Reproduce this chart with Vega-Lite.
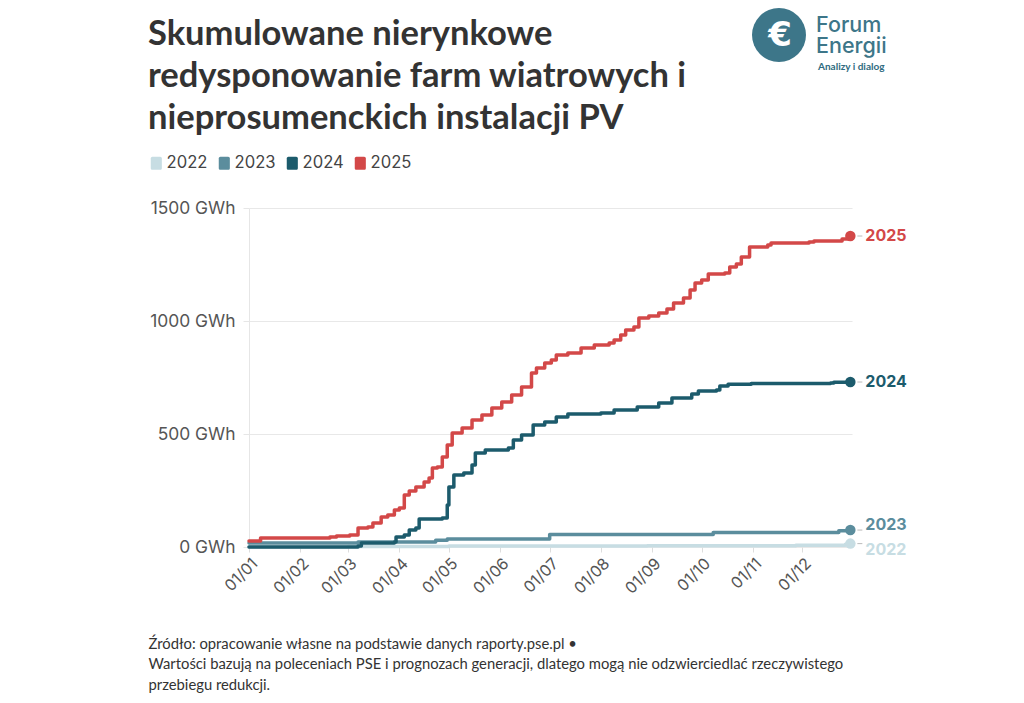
{
  "$schema": "https://vega.github.io/schema/vega-lite/v6.json",
  "width": 603,
  "height": 339,
  "autosize": {"type": "none"},
  "padding": {"left": 249, "top": 208, "right": 172, "bottom": 156},
  "background": "white",
  "config": {
    "view": {"stroke": null},
    "font": "Inter"
  },
  "title": {
    "text": ["Skumulowane nierynkowe", "redysponowanie farm wiatrowych i", "nieprosumenckich instalacji PV"],
    "anchor": "start",
    "frame": "bounds",
    "font": "Lato",
    "fontSize": 34.5,
    "fontWeight": "bold",
    "color": "#333333",
    "lineHeight": 42,
    "offset": -128
  },
  "datasets": {
    "redispatch": [
      {"series": "2022", "date": "2022-01-01", "gwh": 0},
      {"series": "2022", "date": "2022-03-01", "gwh": 2},
      {"series": "2022", "date": "2022-05-01", "gwh": 4},
      {"series": "2022", "date": "2022-08-29", "gwh": 6},
      {"series": "2022", "date": "2022-11-27", "gwh": 8},
      {"series": "2022", "date": "2022-12-27", "gwh": 12},
      {"series": "2022", "date": "2022-12-30", "gwh": 15},

      {"series": "2023", "date": "2023-01-01", "gwh": 18},
      {"series": "2023", "date": "2023-03-07", "gwh": 22},
      {"series": "2023", "date": "2023-04-23", "gwh": 30},
      {"series": "2023", "date": "2023-04-30", "gwh": 35},
      {"series": "2023", "date": "2023-07-01", "gwh": 55},
      {"series": "2023", "date": "2023-10-08", "gwh": 64},
      {"series": "2023", "date": "2023-12-23", "gwh": 72},
      {"series": "2023", "date": "2023-12-30", "gwh": 75},

      {"series": "2024", "date": "2024-01-01", "gwh": 0},
      {"series": "2024", "date": "2024-03-07", "gwh": 4},
      {"series": "2024", "date": "2024-03-09", "gwh": 18},
      {"series": "2024", "date": "2024-03-29", "gwh": 22},
      {"series": "2024", "date": "2024-03-30", "gwh": 44},
      {"series": "2024", "date": "2024-04-04", "gwh": 53},
      {"series": "2024", "date": "2024-04-07", "gwh": 75},
      {"series": "2024", "date": "2024-04-11", "gwh": 84},
      {"series": "2024", "date": "2024-04-13", "gwh": 124},
      {"series": "2024", "date": "2024-04-27", "gwh": 128},
      {"series": "2024", "date": "2024-04-30", "gwh": 186},
      {"series": "2024", "date": "2024-05-01", "gwh": 265},
      {"series": "2024", "date": "2024-05-04", "gwh": 319},
      {"series": "2024", "date": "2024-05-10", "gwh": 327},
      {"series": "2024", "date": "2024-05-15", "gwh": 363},
      {"series": "2024", "date": "2024-05-17", "gwh": 416},
      {"series": "2024", "date": "2024-05-23", "gwh": 429},
      {"series": "2024", "date": "2024-06-06", "gwh": 438},
      {"series": "2024", "date": "2024-06-09", "gwh": 473},
      {"series": "2024", "date": "2024-06-14", "gwh": 496},
      {"series": "2024", "date": "2024-06-21", "gwh": 540},
      {"series": "2024", "date": "2024-06-28", "gwh": 553},
      {"series": "2024", "date": "2024-07-05", "gwh": 575},
      {"series": "2024", "date": "2024-07-12", "gwh": 588},
      {"series": "2024", "date": "2024-08-01", "gwh": 593},
      {"series": "2024", "date": "2024-08-09", "gwh": 606},
      {"series": "2024", "date": "2024-08-23", "gwh": 619},
      {"series": "2024", "date": "2024-09-05", "gwh": 637},
      {"series": "2024", "date": "2024-09-13", "gwh": 659},
      {"series": "2024", "date": "2024-09-25", "gwh": 677},
      {"series": "2024", "date": "2024-09-29", "gwh": 690},
      {"series": "2024", "date": "2024-10-10", "gwh": 695},
      {"series": "2024", "date": "2024-10-12", "gwh": 712},
      {"series": "2024", "date": "2024-10-17", "gwh": 720},
      {"series": "2024", "date": "2024-10-31", "gwh": 724},
      {"series": "2024", "date": "2024-12-18", "gwh": 726},
      {"series": "2024", "date": "2024-12-20", "gwh": 729},
      {"series": "2024", "date": "2024-12-30", "gwh": 730},

      {"series": "2025", "date": "2025-01-01", "gwh": 27},
      {"series": "2025", "date": "2025-01-08", "gwh": 40},
      {"series": "2025", "date": "2025-02-19", "gwh": 44},
      {"series": "2025", "date": "2025-02-23", "gwh": 49},
      {"series": "2025", "date": "2025-03-02", "gwh": 53},
      {"series": "2025", "date": "2025-03-07", "gwh": 84},
      {"series": "2025", "date": "2025-03-13", "gwh": 88},
      {"series": "2025", "date": "2025-03-16", "gwh": 106},
      {"series": "2025", "date": "2025-03-21", "gwh": 133},
      {"series": "2025", "date": "2025-03-25", "gwh": 142},
      {"series": "2025", "date": "2025-03-29", "gwh": 164},
      {"series": "2025", "date": "2025-04-01", "gwh": 173},
      {"series": "2025", "date": "2025-04-04", "gwh": 230},
      {"series": "2025", "date": "2025-04-07", "gwh": 248},
      {"series": "2025", "date": "2025-04-11", "gwh": 265},
      {"series": "2025", "date": "2025-04-16", "gwh": 288},
      {"series": "2025", "date": "2025-04-19", "gwh": 305},
      {"series": "2025", "date": "2025-04-21", "gwh": 350},
      {"series": "2025", "date": "2025-04-24", "gwh": 354},
      {"series": "2025", "date": "2025-04-27", "gwh": 398},
      {"series": "2025", "date": "2025-04-30", "gwh": 451},
      {"series": "2025", "date": "2025-05-03", "gwh": 504},
      {"series": "2025", "date": "2025-05-09", "gwh": 527},
      {"series": "2025", "date": "2025-05-15", "gwh": 562},
      {"series": "2025", "date": "2025-05-21", "gwh": 584},
      {"series": "2025", "date": "2025-05-27", "gwh": 615},
      {"series": "2025", "date": "2025-06-02", "gwh": 642},
      {"series": "2025", "date": "2025-06-08", "gwh": 673},
      {"series": "2025", "date": "2025-06-14", "gwh": 708},
      {"series": "2025", "date": "2025-06-20", "gwh": 770},
      {"series": "2025", "date": "2025-06-23", "gwh": 792},
      {"series": "2025", "date": "2025-06-28", "gwh": 814},
      {"series": "2025", "date": "2025-07-02", "gwh": 827},
      {"series": "2025", "date": "2025-07-05", "gwh": 850},
      {"series": "2025", "date": "2025-07-12", "gwh": 858},
      {"series": "2025", "date": "2025-07-20", "gwh": 881},
      {"series": "2025", "date": "2025-07-28", "gwh": 894},
      {"series": "2025", "date": "2025-08-06", "gwh": 903},
      {"series": "2025", "date": "2025-08-09", "gwh": 916},
      {"series": "2025", "date": "2025-08-13", "gwh": 938},
      {"series": "2025", "date": "2025-08-16", "gwh": 960},
      {"series": "2025", "date": "2025-08-21", "gwh": 973},
      {"series": "2025", "date": "2025-08-24", "gwh": 1013},
      {"series": "2025", "date": "2025-08-30", "gwh": 1022},
      {"series": "2025", "date": "2025-09-05", "gwh": 1035},
      {"series": "2025", "date": "2025-09-10", "gwh": 1053},
      {"series": "2025", "date": "2025-09-14", "gwh": 1080},
      {"series": "2025", "date": "2025-09-20", "gwh": 1102},
      {"series": "2025", "date": "2025-09-24", "gwh": 1137},
      {"series": "2025", "date": "2025-09-27", "gwh": 1168},
      {"series": "2025", "date": "2025-10-01", "gwh": 1181},
      {"series": "2025", "date": "2025-10-05", "gwh": 1208},
      {"series": "2025", "date": "2025-10-15", "gwh": 1212},
      {"series": "2025", "date": "2025-10-18", "gwh": 1239},
      {"series": "2025", "date": "2025-10-22", "gwh": 1252},
      {"series": "2025", "date": "2025-10-25", "gwh": 1283},
      {"series": "2025", "date": "2025-10-30", "gwh": 1327},
      {"series": "2025", "date": "2025-11-10", "gwh": 1336},
      {"series": "2025", "date": "2025-11-12", "gwh": 1345},
      {"series": "2025", "date": "2025-12-05", "gwh": 1350},
      {"series": "2025", "date": "2025-12-08", "gwh": 1354},
      {"series": "2025", "date": "2025-12-25", "gwh": 1363},
      {"series": "2025", "date": "2025-12-30", "gwh": 1376}
    ]
  },
  "layer": [
    {
      "data": {"name": "redispatch"},
      "mark": {"type": "line", "interpolate": "step-after", "strokeWidth": 3.5, "strokeJoin": "round", "strokeCap": "round"},
      "encoding": {
        "x": {
          "field": "date",
          "timeUnit": "monthdate",
          "type": "temporal",
          "scale": {"domain": [{"year": 2012, "month": 1, "date": 1}, {"year": 2012, "month": 12, "date": 31}]},
          "axis": {
            "format": "%d/%m",
            "tickCount": {"interval": "month", "step": 1},
            "labelAngle": -45,
            "labelAlign": "right",
            "labelBaseline": "top",
            "labelFont": "Inter",
            "labelFontSize": 16,
            "labelColor": "#555555",
            "labelPadding": 3,
            "labelOverlap": false,
            "labelBound": false,
            "labelFlush": false,
            "grid": false,
            "domain": false,
            "ticks": true,
            "tickSize": 5,
            "tickColor": "#dddddd",
            "title": [
              "Źródło: opracowanie własne na podstawie danych raporty.pse.pl •",
              "Wartości bazują na poleceniach PSE i prognozach generacji, dlatego mogą nie odzwierciedlać rzeczywistego",
              "przebiegu redukcji."
            ],
            "titleFont": "Lato",
            "titleFontSize": 14.8,
            "titleFontWeight": "normal",
            "titleColor": "#333333",
            "titleAnchor": "start",
            "titleAlign": "left",
            "titleBaseline": "top",
            "titleLineHeight": 20.5,
            "titleX": -101,
            "titleY": 89
          }
        },
        "y": {
          "field": "gwh",
          "type": "quantitative",
          "scale": {"domain": [0, 1500], "nice": false},
          "axis": {
            "values": [0, 500, 1000, 1500],
            "labelExpr": "datum.value + ' GWh'",
            "title": null,
            "grid": true,
            "gridColor": "#e8e8e8",
            "gridWidth": 1.2,
            "domain": true,
            "domainColor": "#e6e6e6",
            "tickColor": "#e6e6e6",
            "tickSize": 6,
            "labelPadding": 8,
            "labelFont": "Inter",
            "labelFontSize": 17.4,
            "labelColor": "#555555"
          }
        },
        "color": {
          "field": "series",
          "type": "nominal",
          "scale": {"domain": ["2022", "2023", "2024", "2025"], "range": ["#c7dde3", "#5b8d9d", "#1c5b6c", "#d34848"]},
          "legend": {
            "orient": "none",
            "legendX": -101,
            "legendY": -53,
            "direction": "horizontal",
            "title": null,
            "padding": 0,
            "labelFont": "Inter",
            "labelFontSize": 16.6,
            "labelColor": "#444444",
            "labelOffset": 2,
            "columnPadding": 8,
            "symbolSize": 170,
            "symbolType": "M-0.6,-1H0.6A0.25,0.25 0 0 1 0.85,-0.75V0.75A0.25,0.25 0 0 1 0.6,1H-0.6A0.25,0.25 0 0 1 -0.85,0.75V-0.75A0.25,0.25 0 0 1 -0.6,-1Z",
            "symbolStrokeWidth": 0,
            "symbolOpacity": 1,
            "encode": {
              "symbols": {"update": {"fill": {"scale": "color", "field": "value"}, "stroke": {"value": "transparent"}, "opacity": {"value": 1}}}
            }
          }
        }
      }
    },
    {
      "data": {"name": "redispatch"},
      "transform": [
        {"window": [{"op": "row_number", "as": "rn"}], "groupby": ["series"], "sort": [{"field": "date", "order": "descending"}]},
        {"filter": "datum.rn === 1"}
      ],
      "mark": {"type": "rule", "xOffset": 7, "x2Offset": 12, "strokeWidth": 1, "color": "#bbbbbb"},
      "encoding": {
        "x": {"field": "date", "timeUnit": "monthdate", "type": "temporal"},
        "x2": {"field": "date", "timeUnit": "monthdate"},
        "y": {"field": "gwh", "type": "quantitative"}
      }
    },
    {
      "data": {"name": "redispatch"},
      "transform": [
        {"window": [{"op": "row_number", "as": "rn"}], "groupby": ["series"], "sort": [{"field": "date", "order": "descending"}]},
        {"filter": "datum.rn === 1"}
      ],
      "mark": {"type": "point", "filled": true, "opacity": 1, "size": 110},
      "encoding": {
        "x": {"field": "date", "timeUnit": "monthdate", "type": "temporal"},
        "y": {"field": "gwh", "type": "quantitative"},
        "color": {"field": "series", "type": "nominal"}
      }
    },
    {
      "data": {"name": "redispatch"},
      "transform": [
        {"window": [{"op": "row_number", "as": "rn"}], "groupby": ["series"], "sort": [{"field": "date", "order": "descending"}]},
        {"filter": "datum.rn === 1"}
      ],
      "mark": {
        "type": "text",
        "align": "left",
        "baseline": "middle",
        "dx": 15,
        "dy": {"expr": "datum.series === '2023' ? -5 : datum.series === '2022' ? 6 : 0"},
        "font": "Inter",
        "fontSize": 16,
        "fontWeight": "bold"
      },
      "encoding": {
        "x": {"field": "date", "timeUnit": "monthdate", "type": "temporal"},
        "y": {"field": "gwh", "type": "quantitative"},
        "text": {"field": "series"},
        "color": {"field": "series", "type": "nominal"}
      }
    },
    {
      "data": {"values": [{}]},
      "mark": {"type": "point", "shape": "circle", "filled": true, "opacity": 1, "size": 2916, "color": "#3d7689", "x": 530, "y": -173},
      "encoding": {}
    },
    {
      "data": {"values": [{}]},
      "mark": {"type": "text", "text": "€", "font": "DejaVu Sans", "fontWeight": "bold", "fontSize": 34, "color": "white", "align": "center", "baseline": "middle", "x": 531, "y": -172},
      "encoding": {}
    },
    {
      "data": {"values": [{}]},
      "mark": {"type": "text", "text": ["Forum", "Energii"], "lineHeight": 21, "font": "Inter", "fontWeight": 500, "fontSize": 21.5, "color": "#3d7689", "align": "left", "baseline": "alphabetic", "x": 567, "y": -176},
      "encoding": {}
    },
    {
      "data": {"values": [{}]},
      "mark": {"type": "text", "text": "Analizy i dialog", "font": "Lato", "fontWeight": "bold", "fontSize": 10, "color": "#2f6b80", "align": "left", "baseline": "alphabetic", "x": 569, "y": -138},
      "encoding": {}
    }
  ]
}
